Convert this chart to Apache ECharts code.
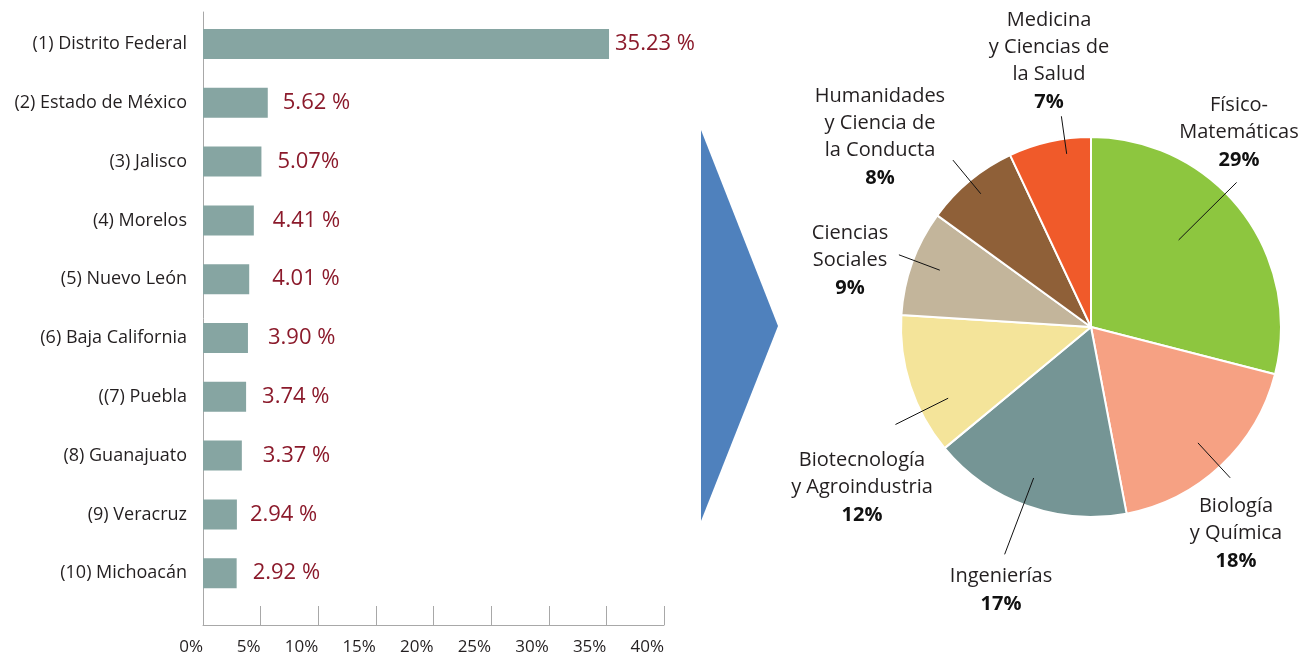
<!DOCTYPE html>
<html>
<head>
<meta charset="utf-8">
<style>
  html, body { margin: 0; padding: 0; background: #fff; }
  #chart { width: 1307px; height: 657px; }
</style>
<script src="https://cdn.jsdelivr.net/npm/echarts@6/dist/echarts.min.js"></script>
</head>
<body>
<div id="chart"></div>
<script>
// entidades federativas (barras)
const states = [
  '(1) Distrito Federal', '(2) Estado de México', '(3) Jalisco', '(4) Morelos',
  '(5) Nuevo León', '(6) Baja California', '((7) Puebla', '(8) Guanajuato',
  '(9) Veracruz', '(10) Michoacán'
]
const stateShare = [35.23, 5.62, 5.07, 4.41, 4.01, 3.90, 3.74, 3.37, 2.94, 2.92]
const stateLabels = ['35.23 %', '5.62 %', '5.07%', '4.41 %', '4.01 %', '3.90 %', '3.74 %', '3.37 %', '2.94 %', '2.92 %']

// áreas del conocimiento (pastel)
const areas = [
  'Físico-\nMatemáticas', 'Biología\ny Química', 'Ingenierías', 'Biotecnología\ny Agroindustria',
  'Ciencias\nSociales', 'Humanidades\ny Ciencia de\nla Conducta', 'Medicina\ny Ciencias de\nla Salud'
]
const areaShare = [29, 18, 17, 12, 9, 8, 7]
const areaColors = ['#8dc63f', '#f6a183', '#759595', '#f4e49a', '#c3b59b', '#8f6038', '#f05a2a']

const FONT = 'Open Sans'
const TEXT = '#231f20'
const AXIS = '#a8a8a8'

// separación de la etiqueta de valor respecto a la barra (px)
const labelGap = [6, 15, 16, 19, 23, 20, 16, 21, 13, 16]

// pastel: centro y radio en px
const PIE_CX = 1091, PIE_CY = 327, PIE_R = 190
// por rebanada: giro de la guía (grados), radio interior/exterior (fracción), centro de la etiqueta
const pieLabelPos = [
  { a: -7, rin: 0.65, rout: 1.08, dx: 148, dy: -194 },
  { a: 0.5, rin: 0.83, rout: 1.08, dx: 145, dy: 207 },
  { a: 1, rin: 0.85, rout: 1.28, dx: -90, dy: 264 },
  { a: -8.5, rin: 0.84, rout: 1.15, dx: -229, dy: 161 },
  { a: 0.8, rin: 0.85, rout: 1.08, dx: -241, dy: -66 },
  { a: 0, rin: 0.91, rout: 1.14, dx: -211, dy: -189 },
  { a: 4.6, rin: 0.92, rout: 1.12, dx: -42, dy: -265 }
]

// ángulo medio de cada rebanada (grados desde las 12, sentido horario)
const total = areaShare.reduce((s, v) => s + v, 0)
let acc = 0
const midAngles = areaShare.map(v => {
  const m = (acc + v / 2) / total * 360
  acc += v
  return m
})

const polar = (deg, r) => {
  const t = deg * Math.PI / 180
  return [PIE_CX + r * Math.sin(t), PIE_CY - r * Math.cos(t)]
}

const pieData = (colors) => areas.map((n, i) => ({
  name: n, value: areaShare[i], itemStyle: { color: colors ? colors[i] : 'rgba(0,0,0,0)' }
}))

const chart = echarts.init(document.getElementById('chart'))

chart.setOption({
  animation: false,
  textStyle: { fontFamily: FONT },
  grid: [
    { left: 203, width: 461, top: 14.6, height: 588 },
    { left: 203, width: 461, top: 12, height: 613 }
  ],
  xAxis: [
    { gridIndex: 0, type: 'value', min: 0, max: 40, show: false },
    {
      gridIndex: 1, type: 'value', min: 0, max: 40, interval: 5,
      axisLine: { show: true, lineStyle: { color: AXIS, width: 1 } },
      axisTick: { show: true, inside: true, length: 19, lineStyle: { color: AXIS } },
      splitLine: { show: false },
      axisLabel: {
        formatter: '{value}%', align: 'right', margin: 14,
        fontSize: 17, color: TEXT, fontFamily: FONT
      }
    }
  ],
  yAxis: [
    {
      gridIndex: 0, type: 'category', inverse: true, data: states,
      axisLine: { show: false }, axisTick: { show: false },
      axisLabel: { margin: 16, fontSize: 18, color: TEXT, fontFamily: FONT }
    },
    {
      gridIndex: 1, type: 'value', min: 0, max: 1,
      axisLine: { show: true, lineStyle: { color: AXIS, width: 1 } },
      axisTick: { show: false }, axisLabel: { show: false }, splitLine: { show: false }
    }
  ],
  graphic: [
    {
      type: 'polygon',
      shape: { points: [[701, 130], [701, 521], [778, 326]] },
      style: { fill: '#4f81bd' }
    }
  ],
  series: [
    {
      type: 'bar',
      xAxisIndex: 0, yAxisIndex: 0,
      barWidth: 30,
      itemStyle: { color: '#86a5a2' },
      label: {
        show: true, position: 'right',
        fontSize: 22, color: '#8b1a2b', fontFamily: FONT,
        formatter: p => stateLabels[p.dataIndex]
      },
      data: stateShare.map((v, i) => ({ value: v, label: { distance: labelGap[i] } }))
    },
    // rebanadas
    {
      type: 'pie',
      center: [PIE_CX, PIE_CY],
      radius: PIE_R,
      startAngle: 90,
      clockwise: true,
      itemStyle: { borderColor: '#fff', borderWidth: 2 },
      label: { show: false },
      labelLine: { show: false },
      data: pieData(areaColors)
    },
    // etiquetas y guías por encima de las rebanadas
    {
      type: 'pie',
      z: 3,
      silent: true,
      center: [PIE_CX, PIE_CY],
      radius: PIE_R,
      startAngle: 90,
      clockwise: true,
      avoidLabelOverlap: false,
      itemStyle: { borderWidth: 0 },
      label: {
        show: true,
        position: 'outside',
        width: 220,
        overflow: 'none',
        formatter: p => '{n|' + p.name + '}\n{p|' + p.value + '%}',
        rich: {
          n: { fontSize: 20, lineHeight: 27, color: TEXT, fontFamily: FONT, align: 'center' },
          p: { fontSize: 20, lineHeight: 29, color: '#111', fontWeight: 'bold', fontFamily: FONT, align: 'center' }
        }
      },
      labelLine: { show: true, showAbove: true, lineStyle: { color: '#111', width: 1 } },
      labelLayout: params => {
        const i = params.dataIndex
        const c = pieLabelPos[i]
        const ang = midAngles[i] + c.a
        const pin = polar(ang, PIE_R * c.rin)
        const pout = polar(ang, PIE_R * c.rout)
        return {
          x: PIE_CX + c.dx,
          y: PIE_CY + c.dy,
          align: 'center',
          verticalAlign: 'middle',
          labelLinePoints: [pin, pout, pout]
        }
      },
      data: pieData(null)
    }
  ]
})
</script>
</body>
</html>
